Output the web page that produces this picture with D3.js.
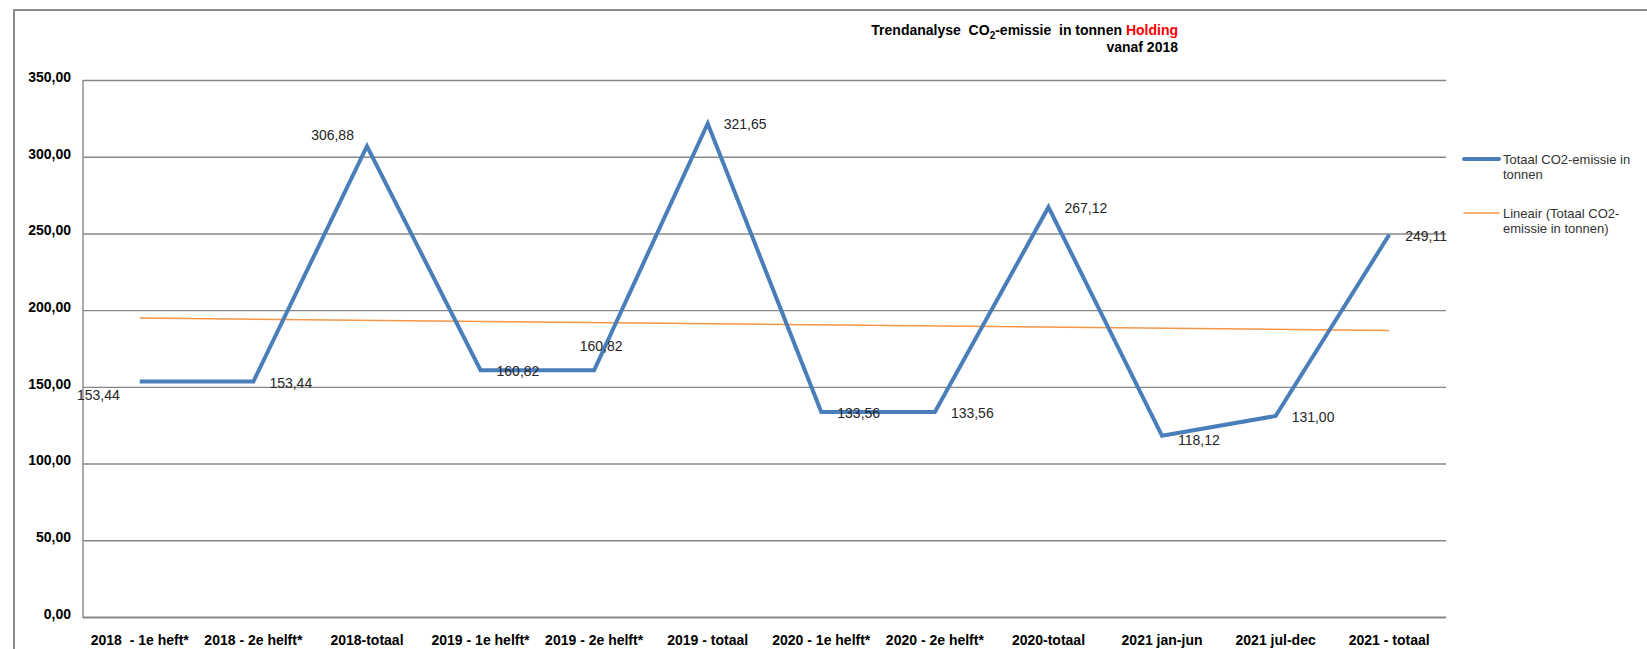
<!DOCTYPE html>
<html>
<head>
<meta charset="utf-8">
<script src="https://cdn.jsdelivr.net/npm/d3@7"></script>
<style>
  html, body { margin: 0; padding: 0; background: #fff; }
  svg { display: block; font-family: "Liberation Sans", Arial, sans-serif; }
  text { white-space: pre; }
</style>
</head>
<body>
<svg id="chart"></svg>
<script>
// 1. DATA *******************************
const categories = [
  "2018  - 1e heft*", "2018 - 2e helft*", "2018-totaal",
  "2019 - 1e helft*", "2019 - 2e helft*", "2019 - totaal",
  "2020 - 1e helft*", "2020 - 2e helft*", "2020-totaal",
  "2021 jan-jun", "2021 jul-dec", "2021 - totaal"
]
const emissions = [153.44, 153.44, 306.88, 160.82, 160.82, 321.65, 133.56, 133.56, 267.12, 118.12, 131.00, 249.11]
// where Excel put each data label
const labelPlacement = ["belowLeft", "right", "aboveLeft", "right", "above", "right",
  "right", "right", "right", "right", "right", "right"]
const yTicks = [0, 50, 100, 150, 200, 250, 300, 350]
const legendLabels = [
  ["Totaal CO2-emissie in", "tonnen"],
  ["Lineair (Totaal CO2-", "emissie in tonnen)"]
]

const blue = "#4a7ebb"
const orange = "#f79646"
const gridColor = "#878787"

// 2. CANVAS *******************************
const W = 1647, H = 649
const plot = { left: 83, right: 1446, top: 80, bottom: 617 }

const svg = d3.select("#chart")
  .attr("width", W)
  .attr("height", H)

// outer chart frame (top + left visible)
svg.append("path")
  .attr("d", `M14,${H + 5} L14,10 L${W + 5},10`)
  .attr("fill", "none")
  .attr("stroke", "#8c8c8c")
  .attr("stroke-width", 2)

// 3. SCALES *******************************
const xScale = d3.scaleBand()
  .domain(categories)
  .range([plot.left, plot.right])
const xc = d => xScale(d) + xScale.bandwidth() / 2

const yScale = d3.scaleLinear()
  .domain([0, 350])
  .range([plot.bottom, plot.top])

const nl = d3.formatLocale({ decimal: ",", thousands: ".", grouping: [3], currency: ["€", ""] })
const fmt = nl.format(".2f")

// 4. GRID + AXES *******************************
const yAxis = svg.append("g")
  .attr("transform", `translate(${plot.left},0)`)
  .call(d3.axisLeft(yScale).tickValues(yTicks).tickFormat(fmt).tickSize(-(plot.right - plot.left)).tickPadding(12))
yAxis.select(".domain").remove()
yAxis.selectAll(".tick line")
  .attr("stroke", gridColor)
  .attr("stroke-width", d => d === 0 ? 2 : 1.4)
yAxis.selectAll(".tick text")
  .attr("font-family", "Liberation Sans, Arial, sans-serif")
  .attr("font-size", 14)
  .attr("font-weight", "bold")
  .attr("fill", "#000")
  .attr("dy", "0.1em")

svg.append("line")
  .attr("x1", plot.left).attr("x2", plot.left)
  .attr("y1", plot.top).attr("y2", plot.bottom + 1)
  .attr("stroke", gridColor)
  .attr("stroke-width", 1.4)

const xAxis = svg.append("g")
  .attr("transform", `translate(0,${plot.bottom})`)
  .call(d3.axisBottom(xScale).tickSize(0).tickPadding(18))
xAxis.select(".domain").remove()
xAxis.selectAll(".tick text")
  .attr("font-family", "Liberation Sans, Arial, sans-serif")
  .attr("font-size", 14)
  .attr("font-weight", "bold")
  .attr("fill", "#000")

// 5. TREND LINE (Excel linear trendline) *******************************
const n = emissions.length
const xs = d3.range(1, n + 1)
const mx = d3.mean(xs), my = d3.mean(emissions)
const slope = d3.sum(xs, (x, i) => (x - mx) * (emissions[i] - my)) / d3.sum(xs, x => (x - mx) ** 2)
const intercept = my - slope * mx

svg.append("line")
  .attr("x1", xc(categories[0]))
  .attr("x2", xc(categories[n - 1]))
  .attr("y1", yScale(intercept + slope * 1))
  .attr("y2", yScale(intercept + slope * n))
  .attr("stroke", orange)
  .attr("stroke-width", 1.5)

// 6. DATA LINE *******************************
const line = d3.line()
  .x((d, i) => xc(categories[i]))
  .y(d => yScale(d))

svg.append("path")
  .datum(emissions)
  .attr("d", line)
  .attr("fill", "none")
  .attr("stroke", blue)
  .attr("stroke-width", 4)
  .attr("stroke-linejoin", "miter")

// data labels
const placeOffsets = {
  right: { dx: 16, dy: 1, anchor: "start" },
  belowLeft: { dx: -20, dy: 13, anchor: "end" },
  aboveLeft: { dx: -13, dy: -11, anchor: "end" },
  above: { dx: 7, dy: -24, anchor: "middle" }
}
svg.append("g")
  .selectAll("text")
  .data(emissions)
  .join("text")
  .each(function(d, i) {
    const p = placeOffsets[labelPlacement[i]]
    d3.select(this)
      .attr("x", xc(categories[i]) + p.dx)
      .attr("y", yScale(d) + p.dy + (i === 9 ? 3 : 0))
      .attr("text-anchor", p.anchor)
  })
  .attr("dominant-baseline", "central")
  .attr("font-size", 14)
  .attr("fill", "#262626")
  .text(d => fmt(d))

// 7. TITLE *******************************
const title = svg.append("text")
  .attr("x", 1178)
  .attr("y", 35)
  .attr("text-anchor", "end")
  .attr("font-size", 14)
  .attr("font-weight", "bold")
  .attr("fill", "#000")
title.append("tspan").text("Trendanalyse  CO")
title.append("tspan").attr("font-size", 10).attr("dy", 4).text("2")
title.append("tspan").attr("dy", -4).text("-emissie  in tonnen ")
title.append("tspan").attr("fill", "#ff0000").text("Holding")

svg.append("text")
  .attr("x", 1178)
  .attr("y", 52)
  .attr("text-anchor", "end")
  .attr("font-size", 14)
  .attr("font-weight", "bold")
  .attr("fill", "#000")
  .text("vanaf 2018")

// 8. LEGEND *******************************
const legend = svg.append("g").attr("transform", "translate(1464,159)")
const legendStyles = [
  { color: blue, width: 4 },
  { color: orange, width: 1.5 }
]
legendLabels.forEach((lines, i) => {
  const g = legend.append("g").attr("transform", `translate(0,${i * 54})`)
  g.append("line")
    .attr("x1", 0).attr("x2", 35)
    .attr("y1", 0).attr("y2", 0)
    .attr("stroke", legendStyles[i].color)
    .attr("stroke-width", legendStyles[i].width)
    .attr("stroke-linecap", "round")
  const t = g.append("text")
    .attr("x", 39)
    .attr("y", 0)
    .attr("font-size", 13)
    .attr("fill", "#333")
    .attr("dominant-baseline", "central")
  lines.forEach((s, j) => {
    t.append("tspan").attr("x", 39).attr("dy", j === 0 ? 0 : 15).text(s)
  })
})
</script>
</body>
</html>
